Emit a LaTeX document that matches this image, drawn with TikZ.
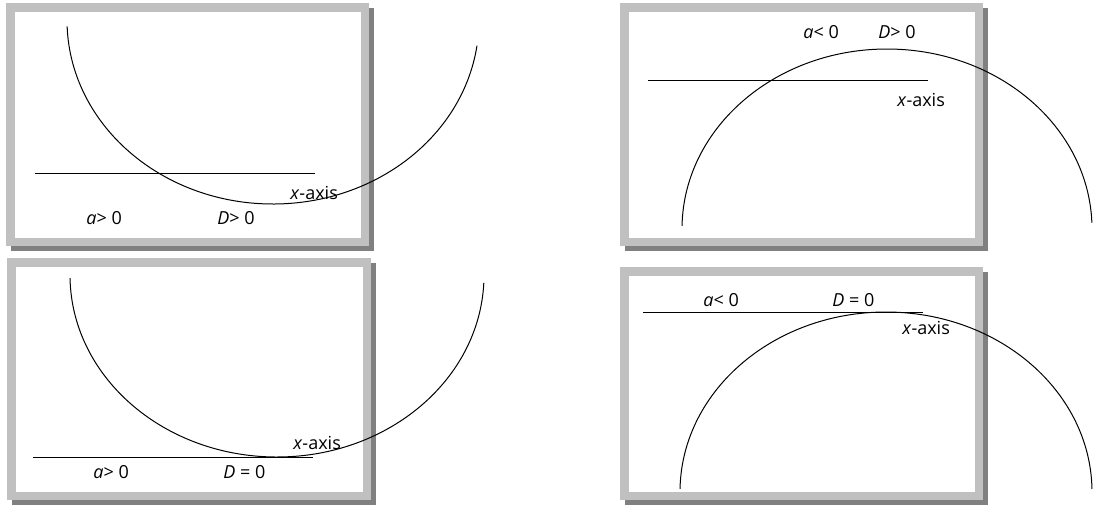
\documentclass[tikz,border=0pt]{standalone}
\usepackage{fontspec}
\setmainfont{Open Sans}
\definecolor{cadre}{RGB}{192,192,192}
\definecolor{ombre}{RGB}{128,128,128}
\begin{document}
\begin{tikzpicture}[x=0.5pt,y=-0.5pt,font=\fontsize{9}{11}\selectfont]
    \useasboundingbox (0,0) rectangle (1098,511);
    \tikzstyle{bord}=[draw=cadre,fill=white,line width=4.25pt]
    \tikzstyle{courbe}=[line width=0.5pt]
    \tikzstyle{axe}=[line width=0.5pt]
    \tikzstyle{etiq}=[anchor=west,inner sep=0pt]
    %%%%%%%%%%%%%%%%%%%%%%%%%%%%%%%%%%%%%% Ombres
    \fill[ombre] (11,8) rectangle (374,251);
    \fill[ombre] (625,8) rectangle (988,251);
    \fill[ombre] (12,263) rectangle (376,505);
    \fill[ombre] (625,272) rectangle (988,505);

    %%%%%%%%%%%%%%%%%%%%%%%%%%%%%%%%%%%%%% Cadres
    \filldraw[bord] (10.25,7.25) rectangle (364.75,241.75);
    \filldraw[bord] (624.25,7.25) rectangle (978.75,241.75);
    \filldraw[bord] (11.25,262.25) rectangle (366.75,495.75);
    \filldraw[bord] (624.25,271.25) rectangle (978.75,495.75);

    %%%%%%%%%%%%%%%%%%%%%%%%%%%%%%%%%%%%%% a>0, D>0
    \draw[axe] (35,173) -- (315,173);
    \draw[courbe] (273,20) ++(178:206 and 184) arc[start angle=178,end angle=8,x radius=206,y radius=184];
    \node[etiq] (xa1) at (290,193) {\textit{x}-axis};
    \node[etiq] (a1) at (86,218) {\textit{a}> 0};
    \node[etiq] (d1) at (217,218) {\textit{D}> 0};

    %%%%%%%%%%%%%%%%%%%%%%%%%%%%%%%%%%%%%% a<0, D>0
    \draw[axe] (648,80) -- (928,80);
    \draw[courbe] (887,229) ++(181:205 and 180) arc[start angle=181,end angle=358,x radius=205,y radius=180];
    \node[etiq] (xa2) at (897,100) {\textit{x}-axis};
    \node[etiq] (a2) at (803,32) {\textit{a}< 0};
    \node[etiq] (d2) at (878,32) {\textit{D}> 0};

    %%%%%%%%%%%%%%%%%%%%%%%%%%%%%%%%%%%%%% a>0, D=0
    \draw[axe] (33,457) -- (313,457);
    \draw[courbe] (277,275) ++(179:207 and 182) arc[start angle=179,end angle=2.5,x radius=207,y radius=182];
    \node[etiq] (xa3) at (293,443) {\textit{x}-axis};
    \node[etiq] (a3) at (93,472) {\textit{a}> 0};
    \node[etiq] (d3) at (223,472) {\textit{D} = 0};

    %%%%%%%%%%%%%%%%%%%%%%%%%%%%%%%%%%%%%% a<0, D=0
    \draw[axe] (643,312) -- (923,312);
    \draw[courbe] (886,492) ++(181:206 and 180) arc[start angle=181,end angle=359,x radius=206,y radius=180];
    \node[etiq] (xa4) at (902,328) {\textit{x}-axis};
    \node[etiq] (a4) at (703,300) {\textit{a}< 0};
    \node[etiq] (d4) at (832,300) {\textit{D} = 0};
\end{tikzpicture}
\end{document}
